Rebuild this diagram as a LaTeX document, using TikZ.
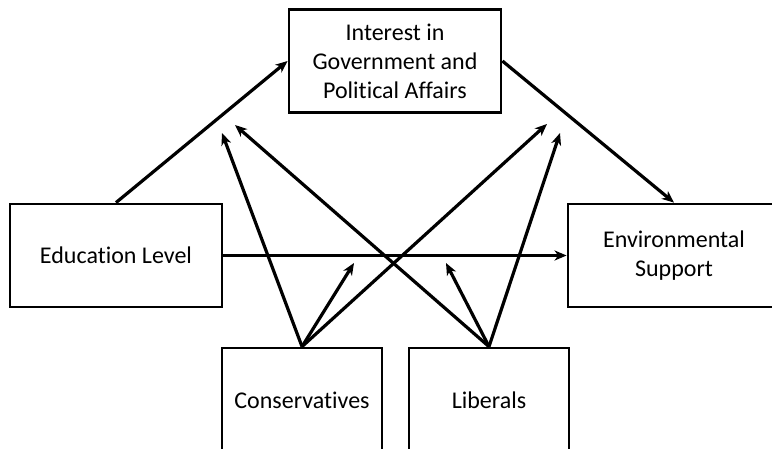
\documentclass[tikz,border=0pt]{standalone}
\usepackage{fontspec}
\setmainfont{Carlito}[Ligatures=NoCommon]
\usetikzlibrary{arrows.meta}
\begin{document}
\begin{tikzpicture}[x=1pt,y=-1pt,
  every node/.style={font=\fontsize{24}{29}\selectfont},
  box/.style={draw,line width=2.8pt,align=center,inner sep=0pt,
    minimum width=212pt,minimum height=103pt},
  grp/.style={box,minimum width=160pt,minimum height=104pt},
  arr/.style={line width=3.2pt,-{Stealth[length=12pt,width=10pt,inset=3.5pt]}}]
\useasboundingbox (0,0) rectangle (772,449);
\clip (0,0) rectangle (772,449);
\node[box] (interest) at (395,61) {Interest in\\Government and\\Political Affairs};
\node[box] (edu) at (116,255.5) {Education Level};
\node[box] (env) at (674,255.5) {Environmental\\Support};
\node[grp] (cons) at (302,400) {Conservatives};
\node[grp] (lib) at (489,400) {Liberals};
% tips of the moderating arrows
\coordinate (c1) at (222,133);
\coordinate (c2) at (354,263);
\coordinate (c3) at (547,124);
\coordinate (l1) at (235,125);
\coordinate (l2) at (446,263);
\coordinate (l3) at (560,133);
\draw[arr] (edu.north) -- (interest.west);
\draw[arr] (interest.east) -- (env.north);
\draw[arr] (edu.east) -- (env.west);
\draw[arr] (cons.north) -- (c1);
\draw[arr] (cons.north) -- (c2);
\draw[arr] (cons.north) -- (c3);
\draw[arr] (lib.north) -- (l1);
\draw[arr] (lib.north) -- (l2);
\draw[arr] (lib.north) -- (l3);
\end{tikzpicture}
\end{document}
